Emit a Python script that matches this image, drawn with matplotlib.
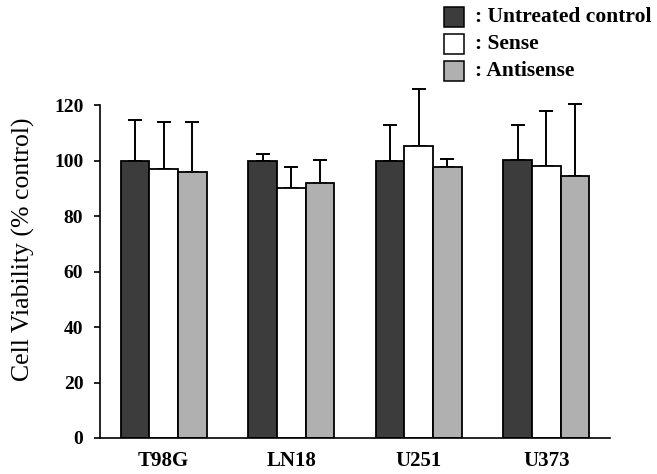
import matplotlib
matplotlib.use("Agg")
import matplotlib.pyplot as plt
import numpy as np
from matplotlib.patches import Rectangle

categories = ["T98G", "LN18", "U251", "U373"]
series_names = ["Untreated control", "Sense", "Antisense"]
untreated = [100, 100, 100, 100.2]
sense = [97, 90, 105.2, 97.9]
antisense = [96, 92, 97.7, 94.3]
untreated_err = [14.5, 2.5, 12.8, 12.6]
sense_err = [17, 7.7, 20.6, 19.8]
antisense_err = [18, 8.2, 2.8, 26.1]
yticks = [0, 20, 40, 60, 80, 100, 120]

colors = ["#3c3c3c", "#ffffff", "#b0b0b0"]

plt.rcParams['font.family'] = ['Liberation Serif', 'DejaVu Serif']
fig = plt.figure(figsize=(6.57, 4.74), dpi=100)
ax = fig.add_axes([100/657, 36/474, 510/657, 333/474])

x = np.arange(len(categories))
w = 0.224
vals = [untreated, sense, antisense]
errs = [untreated_err, sense_err, antisense_err]
for i, (v, e, c) in enumerate(zip(vals, errs, colors)):
    pos = x + (i - 1) * w
    ax.bar(pos, v, width=w, color=c, edgecolor="black", linewidth=1.3, zorder=2)
    ax.errorbar(pos, v, yerr=[np.zeros(len(e)), e], fmt="none", ecolor="black",
                elinewidth=1.4, capsize=5, capthick=1.4, clip_on=False, zorder=1)

ax.set_xlim(-0.5, 3.5)
ax.set_ylim(0, 120)
ax.set_yticks(yticks)
ax.set_yticklabels([str(t) for t in yticks], fontsize=14, fontweight="bold")
ax.set_xticks(x)
ax.set_xticklabels(categories, fontsize=15, fontweight="bold")
ax.tick_params(axis="x", length=0, pad=9)
ax.tick_params(axis="y", length=4, width=1.2, pad=8)
for s in ["top", "right"]:
    ax.spines[s].set_visible(False)
for s in ["left", "bottom"]:
    ax.spines[s].set_linewidth(1.2)
ax.set_ylabel("Cell Viability (% control)", fontsize=18.5, fontweight="normal")
ax.yaxis.set_label_coords(-65/510, (474 - 36 - 249)/333)

# legend
leg_y = [17, 44, 71]
for yy, c, name in zip(leg_y, colors, series_names):
    fig.patches.append(Rectangle((444/657, 1 - (yy + 10)/474), 20/657, 20/474,
                                 transform=fig.transFigure, facecolor=c,
                                 edgecolor="black", linewidth=1.1))
    fig.text(475/657, 1 - yy/474, ": " + name, fontsize=15.5, fontweight="bold",
             va="center", ha="left")

fig.savefig("out.png", dpi=100)
